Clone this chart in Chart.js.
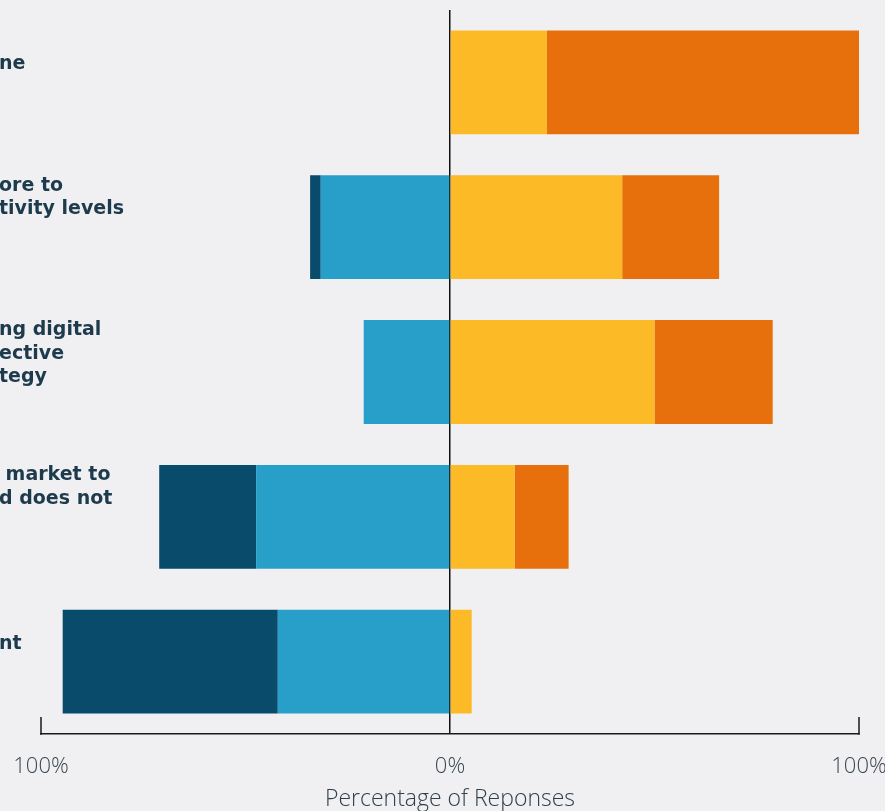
<!DOCTYPE html>
<html>
<head>
<meta charset="utf-8">
<script src="https://cdn.jsdelivr.net/npm/chart.js@4"></script>
<style>
  html, body { margin: 0; padding: 0; background: #F0F0F2; }
  #wrap { width: 885px; height: 811px; }
</style>
</head>
<body>
<div id="wrap"><canvas id="c" width="885" height="811"></canvas></div>
<script>
// Category labels (only the visible right-hand ends of the cropped labels)
const categories = [
  ["ne"],
  ["ore to", "tivity levels", ""],
  ["ng digital", "ective", "tegy"],
  [" market to", "d does not", ""],
  ["nt"]
];
// Series values, percent of responses (negative = disagree side)
const disagree         = [0, -31.6, -21.1, -47.4, -42.1];
const stronglyDisagree = [0, -2.6, 0, -23.7, -52.6];
const agree            = [23.7, 42.1, 50.0, 15.8, 5.3];
const stronglyAgree    = [76.3, 23.7, 28.9, 13.2, 0];
// Axis ticks
const xTickValues = [-100, 0, 100];
const xTickLabels = ["100%", "0%", "100%"];
const axisTitle = "Percentage of Reponses";

const endTicks = {
  id: 'endTicks',
  afterDraw(chart) {
    const x = chart.scales.x;
    const ctx = chart.ctx;
    const bottom = chart.chartArea.bottom;
    ctx.save();
    ctx.strokeStyle = '#1a1a1a';
    ctx.lineWidth = 1.5;
    [xTickValues[0], xTickValues[xTickValues.length - 1]].forEach(v => {
      const px = Math.round(x.getPixelForValue(v));
      ctx.beginPath();
      ctx.moveTo(px, bottom - 17);
      ctx.lineTo(px, bottom + 0.75);
      ctx.stroke();
    });
    ctx.restore();
  }
};

new Chart(document.getElementById('c'), {
  type: 'bar',
  data: {
    labels: categories,
    datasets: [
      { label: 'Disagree', data: disagree, backgroundColor: '#279FC9' },
      { label: 'Strongly disagree', data: stronglyDisagree, backgroundColor: '#084B6B' },
      { label: 'Agree', data: agree, backgroundColor: '#FBBA26' },
      { label: 'Strongly agree', data: stronglyAgree, backgroundColor: '#E8700C' }
    ]
  },
  options: {
    indexAxis: 'y',
    responsive: false,
    animation: false,
    layout: { padding: { left: 0, right: 26, top: 10, bottom: 0 } },
    plugins: { legend: { display: false }, tooltip: { enabled: false } },
    datasets: { bar: { barPercentage: 0.717, categoryPercentage: 1.0, borderWidth: 0 } },
    scales: {
      x: {
        stacked: true,
        min: -100, max: 100,
        afterBuildTicks: s => { s.ticks = xTickValues.map(v => ({ value: v })); },
        afterFit: s => { s.height = 77; s.paddingLeft = 0; s.paddingRight = 0; },
        ticks: {
          callback: (v, i) => xTickLabels[i],
          color: '#3a4750',
          font: { family: "'Open Sans'", size: 22, weight: 300 },
          padding: 0,
          maxRotation: 0,
          autoSkip: false
        },
        grid: {
          drawTicks: true,
          tickLength: 20,
          tickColor: 'rgba(0,0,0,0)',
          color: c => (c.tick && c.tick.value === 0) ? '#111111' : 'rgba(0,0,0,0)',
          lineWidth: 1.5
        },
        border: { display: true, color: '#1a1a1a', width: 1.5 },
        title: {
          display: true,
          text: axisTitle,
          color: '#2e3f4a',
          font: { family: "'Open Sans'", size: 23, weight: 300 },
          padding: { top: 0, bottom: -2 }
        }
      },
      y: {
        stacked: true,
        afterFit: s => { s.width = 41; },
        grid: { display: false },
        border: { display: false },
        ticks: {
          mirror: true,
          crossAlign: 'near',
          padding: -42,
          labelOffset: -18,
          color: '#1d3b4c',
          font: { family: "'DejaVu Sans'", size: 19, weight: 'bold', lineHeight: 1.235 },
          autoSkip: false
        }
      }
    }
  },
  plugins: [endTicks]
});
</script>
</body>
</html>
